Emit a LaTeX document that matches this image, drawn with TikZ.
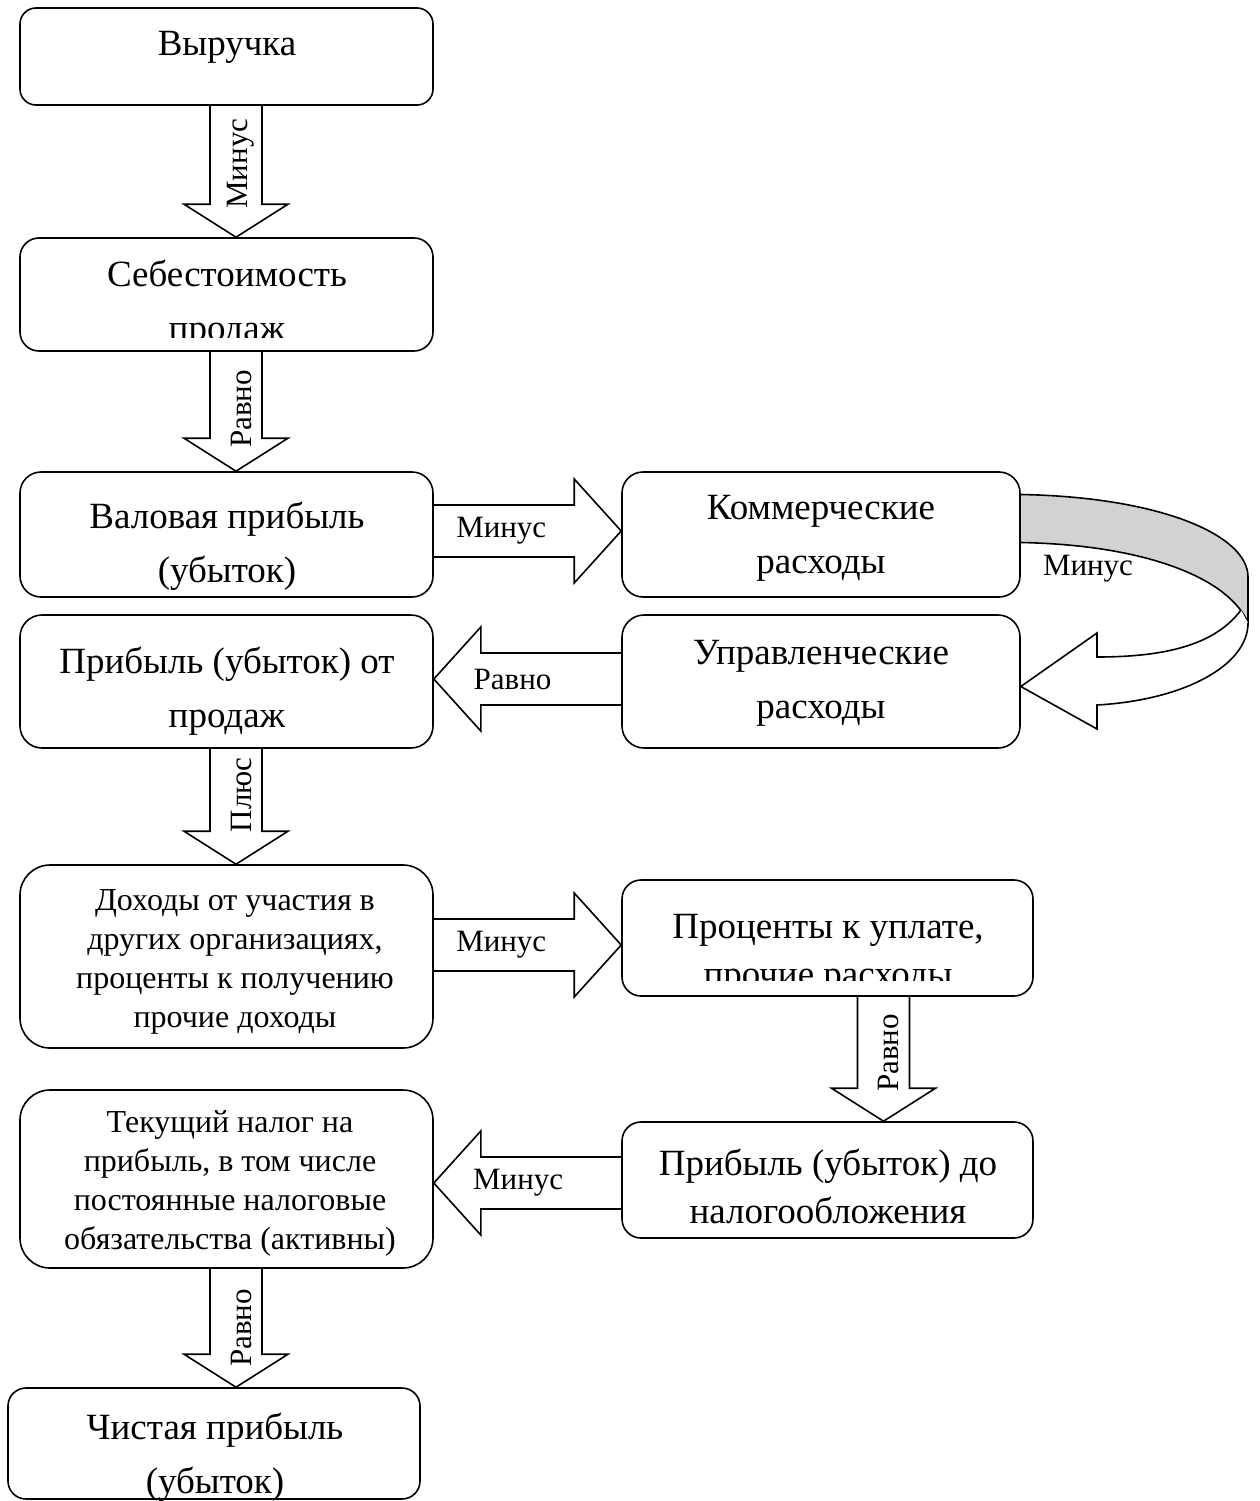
\documentclass[tikz,border=0pt]{standalone}
\usepackage{fontspec}
\setmainfont{Liberation Serif}
\usetikzlibrary{calc,backgrounds}

\begin{document}
\begin{tikzpicture}[x=1pt,y=-1pt,
	box/.style={draw, fill=white, line width=1.6pt, rectangle, rounded corners=#1pt, minimum width=413pt},
	big/.style={align=center, inner sep=0pt, font=\fontsize{37}{54}\selectfont},
	small/.style={align=center, inner sep=0pt, font=\fontsize{32}{39}\selectfont},
	lbl/.style={inner sep=0pt, font=\fontsize{31}{36}\selectfont},
	blk/.style={draw, fill=white, line width=1.6pt, to path={
		($(\tikztostart)!26pt!90:(\tikztotarget)$)
		-- ($(\tikztotarget)!#1pt!(\tikztostart)!26pt!90:(\tikztotarget)$)
		-- ($(\tikztotarget)!#1pt!(\tikztostart)!52pt!90:(\tikztotarget)$)
		-- (\tikztotarget)
		-- ($(\tikztotarget)!#1pt!(\tikztostart)!52pt!-90:(\tikztotarget)$)
		-- ($(\tikztotarget)!#1pt!(\tikztostart)!26pt!-90:(\tikztotarget)$)
		-- ($(\tikztostart)!26pt!-90:(\tikztotarget)$)}}
	]
	\useasboundingbox (0,0) rectangle (1259,1501);

	% boxes
	\node[box=16, minimum height=97pt] (rev) at (226.5,56.5) {};
	\node[box=19, minimum height=113pt] (seb) at (226.5,294.5) {};
	\node[box=21, minimum height=125pt] (val) at (226.5,534.5) {};
	\node[box=21, minimum height=125pt, minimum width=398pt] (kom) at (821,534.5) {};
	\node[box=22, minimum height=133pt] (pro) at (226.5,681.5) {};
	\node[box=22, minimum height=133pt, minimum width=398pt] (upr) at (821,681.5) {};
	\node[box=30, minimum height=183pt] (doh) at (226.5,956.5) {};
	\node[box=19, minimum height=116pt, minimum width=411pt] (prc) at (827.5,938) {};
	\node[box=30, minimum height=178pt] (tax) at (226.5,1179) {};
	\node[box=19, minimum height=116pt, minimum width=411pt] (pbt) at (827.5,1180) {};
	\node[box=18, minimum height=111pt, minimum width=412pt] (net) at (214,1443.5) {};

	% texts
	\node[big] (revT) at (227,47) {Выручка};
	\begin{scope}
		\clip (seb.north west) rectangle ($(seb.south east)+(0,-14)$);
		\node[big] (sebT) at (227,304) {Себестоимость\\продаж};
	\end{scope}
	\node[big] (valT) at (227,546) {Валовая прибыль\\(убыток)};
	\node[big] (komT) at (821,538) {Коммерческие\\расходы};
	\node[big] (proT) at (227,691) {Прибыль (убыток) от\\продаж};
	\node[big] (uprT) at (821,683) {Управленческие\\расходы};
	\node[small] (dohT) at (235,962) {Доходы от участия в\\других организациях,\\проценты к получению\\прочие доходы};
	\begin{scope}
		\clip (prc.north west) rectangle ($(prc.south east)+(0,-16)$);
		\node[big] (prcT) at (828,954) {Проценты к уплате,\\[-6pt]прочие расходы};
	\end{scope}
	\node[small] (taxT) at (230,1183) {Текущий налог на\\прибыль, в том числе\\постоянные налоговые\\обязательства (активны)};
	\node[big] (pbtT) at (828,1186) {Прибыль (убыток) до\\[-6pt]налогообложения};
	\node[big] (netT) at (215,1457) {Чистая прибыль\\(убыток)};

	\coordinate (cl) at (236,0);
	\coordinate (cr) at (883.5,0);
	\coordinate (r1) at (0,531);
	\coordinate (r2) at (0,679);
	\coordinate (r3) at (0,945);
	\coordinate (r4) at (0,1183);

	% block arrows
	\begin{scope}[on background layer]
		\draw[blk=33] (rev.south -| cl) to (seb.north -| cl);
		\draw[blk=33] (seb.south -| cl) to (val.north -| cl);
		\draw[blk=33] (pro.south -| cl) to (doh.north -| cl);
		\draw[blk=33] (prc.south -| cr) to (pbt.north -| cr);
		\draw[blk=33] (tax.south -| cl) to (net.north -| cl);
		\draw[blk=47] (val.east |- r1) to (kom.west |- r1);
		\draw[blk=47] (upr.west |- r2) to (pro.east |- r2);
		\draw[blk=47] (doh.east |- r3) to (prc.west |- r3);
		\draw[blk=47] (pbt.west |- r4) to (tax.east |- r4);
		% curved arrow
		\filldraw[fill=gray!35, line width=1.6pt] ($(kom.east)+(0,-40)$) .. controls (1160,497) and (1248,535) .. (1248,577)
			-- (1248,623) .. controls (1230,580) and (1150,545) .. ($(kom.east)+(0,8)$);
		\filldraw[fill=white, line width=1.6pt] (1241,610) .. controls (1215,645) and (1165,657) .. (1097,657)
			-- (1097,633) -- ($(upr.east)+(0,5)$) -- (1097,729) -- (1097,705)
			.. controls (1185,700) and (1248,665) .. (1248,623);
	\end{scope}

	% labels
	\node[lbl, rotate=90] (m1) at ($(rev.south -| cl)!0.44!(seb.north -| cl)+(5,0)$) {Минус};
	\node[lbl, rotate=90] (e1) at ($(seb.south -| cl)!0.48!(val.north -| cl)+(5,0)$) {Равно};
	\node[lbl, rotate=90] (p1) at ($(pro.south -| cl)!0.40!(doh.north -| cl)+(5,0)$) {Плюс};
	\node[lbl, rotate=90] (e2) at ($(prc.south -| cr)!0.45!(pbt.north -| cr)+(5,0)$) {Равно};
	\node[lbl, rotate=90] (e3) at ($(tax.south -| cl)!0.50!(net.north -| cl)+(5,0)$) {Равно};
	\node[lbl] (m2) at ($(val.east |- r1)!0.36!(kom.west |- r1)$) {Минус};
	\node[lbl] (e4) at ($(upr.west |- r2)!0.58!(pro.east |- r2)$) {Равно};
	\node[lbl] (m3) at ($(doh.east |- r3)!0.36!(prc.west |- r3)$) {Минус};
	\node[lbl] (m4) at ($(pbt.west |- r4)!0.55!(tax.east |- r4)$) {Минус};
	\node[lbl] (m5) at (1088,569) {Минус};
\end{tikzpicture}
\end{document}
